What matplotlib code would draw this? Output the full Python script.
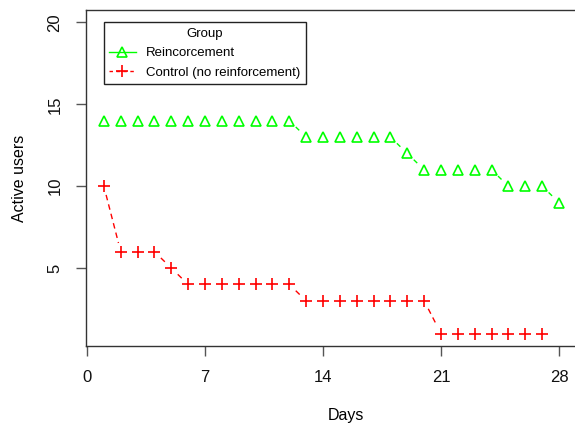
import numpy as np
import matplotlib.pyplot as plt
from matplotlib.lines import Line2D

plt.rcParams['font.family'] = ['Liberation Sans', 'DejaVu Sans']

# data
days = np.arange(1, 29)
reinforcement = [14]*12 + [13]*6 + [12] + [11]*5 + [10]*3 + [9]
control_days = np.arange(1, 28)
control = [10, 6, 6, 6, 5] + [4]*7 + [3]*8 + [1]*7

xticks = [0, 7, 14, 21, 28]
yticks = [5, 10, 15, 20]

W, H = 575, 424
fig = plt.figure(figsize=(W/100, H/100), dpi=100)
# axes box runs off the right edge like the cropped original
ax_w, ax_h = 520, 336
ax = fig.add_axes([86/W, 78/H, ax_w/W, ax_h/H])
px_per_day = 472/28
xlim = (-1/px_per_day, (86 + ax_w - 87)/px_per_day)
ylim = (0.24, 20.76)
ax.set_xlim(*xlim)
ax.set_ylim(*ylim)
sx = ax_w/(xlim[1] - xlim[0])
sy = ax_h/(ylim[1] - ylim[0])


def gapped(ax, x, y, gap=9, **kw):
    # R type="b": segments between points are cut back around each marker
    x = np.asarray(x, float)*sx
    y = np.asarray(y, float)*sy
    for i in range(len(x) - 1):
        dx, dy = x[i+1] - x[i], y[i+1] - y[i]
        L = np.hypot(dx, dy)
        if L <= 2*gap:
            continue
        ux, uy = dx/L, dy/L
        xs = [(x[i] + gap*ux)/sx, (x[i+1] - gap*ux)/sx]
        ys = [(y[i] + gap*uy)/sy, (y[i+1] - gap*uy)/sy]
        ax.plot(xs, ys, **kw)


gapped(ax, days, reinforcement, color='#00ff00', lw=1.0, dashes=(3.5, 2.5))
gapped(ax, control_days, control, color='#ff0000', lw=1.0, dashes=(4, 3))
ax.plot(days, reinforcement, ls='none', marker='^', ms=7.5, mfc='none',
        mec='#00ff00', mew=1.2)
ax.plot(control_days, control, ls='none', marker='+', ms=8.5, mec='#ff0000', mew=1.2)

for s in ax.spines.values():
    s.set_color('#333333')
    s.set_linewidth(1.0)

ax.set_xticks(xticks)
ax.set_yticks(yticks)
ax.tick_params(length=7, width=1, color='#555555', labelsize=12, pad=10, labelcolor='#111111')
ax.set_yticklabels([str(v) for v in yticks], rotation=90, va='center')
ax.set_xlabel('Days', fontsize=11.5, labelpad=17)
ax.set_ylabel('Active users', fontsize=11.5, labelpad=15)

handles = [
    Line2D([], [], color='#00ff00', lw=1.0, marker='^', ms=7, mfc='none', mec='#00ff00', mew=1.2),
    Line2D([], [], color='#ff0000', lw=1.0, dashes=(2.5, 2.5), marker='+', ms=8.5, mec='#ff0000', mew=1.2),
]
leg = ax.legend(handles, ['Reincorcement', 'Control (no reinforcement)'], title='Group',
                loc='upper left', bbox_to_anchor=(1, 20), bbox_transform=ax.transData,
                fontsize=9.5, title_fontsize=9.5, fancybox=False, framealpha=1,
                edgecolor='#222222', borderaxespad=0, handlelength=2.0,
                handletextpad=0.8, labelspacing=0.55, borderpad=0.4)
leg.get_frame().set_linewidth(1.0)

fig.savefig('out.png', dpi=100)
